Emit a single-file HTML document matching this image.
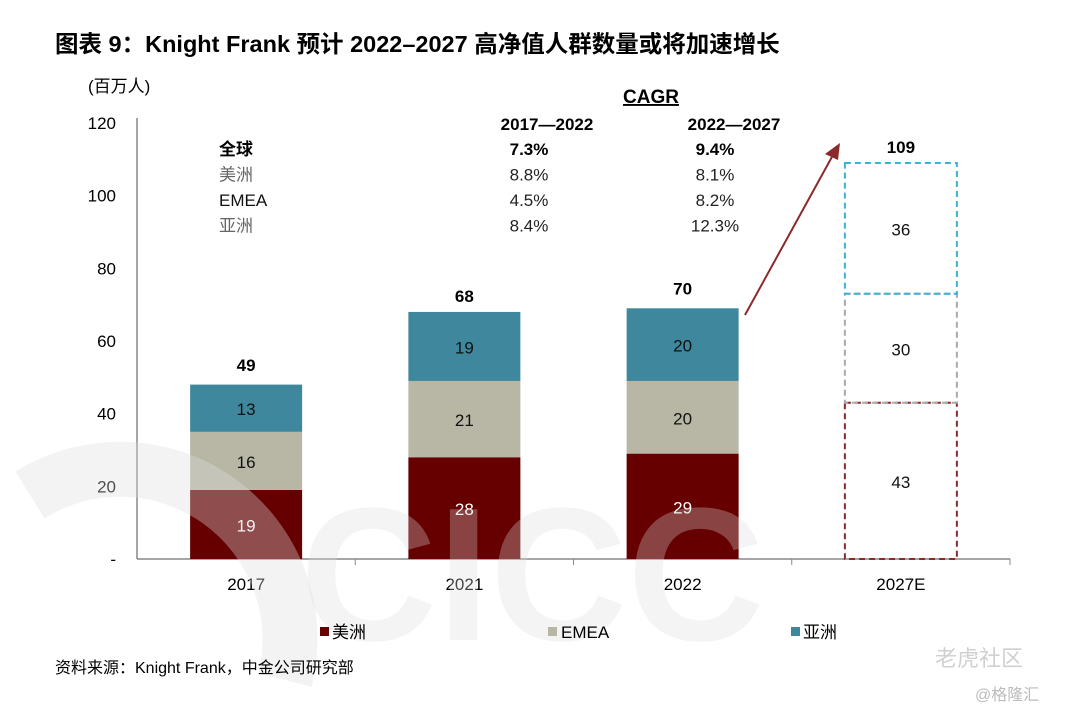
<!DOCTYPE html>
<html><head><meta charset="utf-8"><style>
html,body{margin:0;padding:0;background:#fff;width:1068px;height:720px;overflow:hidden;font-family:"Liberation Sans","Noto Sans CJK SC",sans-serif;}
svg{display:block;overflow:hidden}
</style></head><body>
<svg id="chart" width="1068" height="720" viewBox="0 0 1068 720" xmlns="http://www.w3.org/2000/svg" font-family="Liberation Sans, Noto Sans CJK SC, sans-serif">
<text x="55" y="52" font-size="23.5" font-weight="bold" fill="#000">图表 9：Knight Frank 预计 2022–2027 高净值人群数量或将加速增长</text>
<text x="88" y="92" font-size="17" fill="#000">(百万人)</text>
<g id="axes"></g>
<g id="bars"></g>
<g id="watermark">
<path d="M 30 495 A 170 170 0 0 1 285 680" fill="none" stroke="#dddddd" stroke-width="55" opacity="0.35"/>
<text x="300" y="640" font-size="190" font-weight="bold" fill="#dddddd" opacity="0.3">CICC</text>
</g>
<g id="cagr">
<text x="651" y="103" font-size="19" font-weight="bold" text-anchor="middle" text-decoration="underline">CAGR</text>
<text x="547" y="130" font-size="17" font-weight="bold" text-anchor="middle">2017—2022</text>
<text x="734" y="130" font-size="17" font-weight="bold" text-anchor="middle">2022—2027</text>
</g>
<path d="M745 315 L833 155" stroke="#8b2a2a" stroke-width="2" fill="none"/>
<polygon points="840,143 825,154 838,160" fill="#8b2a2a"/>
<g id="legend">
<rect x="320" y="627" width="9" height="9" fill="#660000"/>
<text x="332" y="638" font-size="17">美洲</text>
<rect x="548" y="627" width="9" height="9" fill="#b8b7a6"/>
<text x="561" y="638" font-size="17">EMEA</text>
<rect x="791" y="627" width="9" height="9" fill="#3f879c"/>
<text x="803" y="638" font-size="17">亚洲</text>
</g>
<text x="55" y="673" font-size="16">资料来源：Knight Frank，中金公司研究部</text>
<text x="935" y="666" font-size="22" fill="#d0d0d0">老虎社区</text>
<text x="975" y="700" font-size="16" fill="#bbb">@格隆汇</text>
</svg>
<script>
const categories=["2017","2021","2022","2027E"];
const americas=[19,28,29,43];
const emea=[16,21,20,30];
const asia=[13,19,20,36];
const totals=[49,68,70,109];
const yTicks=[0,20,40,60,80,100,120];
const cagrRows=["全球","美洲","EMEA","亚洲"];
const cagr1=["7.3%","8.8%","4.5%","8.4%"];
const cagr2=["9.4%","8.1%","8.2%","12.3%"];

const NS="http://www.w3.org/2000/svg";
const x0=137,x1=1010,yBase=559,yTop=123,yMax=120;
const step=(x1-x0)/categories.length, barW=112;
function y(v){return yBase-(v/yMax)*(yBase-yTop);}
function cx(i){return x0+step*(i+0.5);}
function mk(tag,attrs,parent){const e=document.createElementNS(NS,tag);for(const k in attrs)e.setAttribute(k,attrs[k]);parent.appendChild(e);return e;}
const ax=document.getElementById('axes'),bg=document.getElementById('bars'),cg=document.getElementById('cagr');

let l=mk('line',{x1:x0,y1:yTop-5,x2:x0,y2:yBase,stroke:'#888','stroke-width':1.5},ax);


l=mk('line',{x1:x0,y1:yBase,x2:x1,y2:yBase,stroke:'#888','stroke-width':1.5},ax);


yTicks.forEach(v=>{
 const t=mk('text',{x:116,y:y(v)+6,'font-size':17,'text-anchor':'end'},ax);
 t.textContent=v===0?'-':String(v);
 
 
});
categories.forEach((c,i)=>{
 const tk=mk('line',{x1:x0+step*(i+1),y1:yBase,x2:x0+step*(i+1),y2:yBase+6,stroke:'#888','stroke-width':1},ax);
 
 
 const t=mk('text',{x:cx(i),y:590,'font-size':17,'text-anchor':'middle'},ax);
 t.textContent=c;
 
 
});
const series=[[americas,'#660000','#fff','#8b2a2a','americas'],[emea,'#b8b7a6','#111','#aaa','emea'],[asia,'#3f879c','#111','#3bb3d6','asia']];
categories.forEach((c,i)=>{
 let base=0;
 const proj=i===categories.length-1;
 series.forEach(s=>{
  const v=s[0][i];
  const r=mk('rect',{x:cx(i)-barW/2,y:y(base+v),width:barW,height:y(base)-y(base+v)},bg);
  if(proj){r.setAttribute('fill','none');r.setAttribute('stroke',s[3]);r.setAttribute('stroke-width',2);r.setAttribute('stroke-dasharray','6,4');}
  else r.setAttribute('fill',s[1]);
  
  
  const t=mk('text',{x:cx(i),y:(y(base)+y(base+v))/2+7,'font-size':17,'text-anchor':'middle',fill:proj?'#111':s[2]},bg);
  t.textContent=v;
  
  
  base+=v;
 });
 const t=mk('text',{x:cx(i),y:y(totals[i])-10,'font-size':17,'font-weight':'bold','text-anchor':'middle'},bg);
 t.textContent=totals[i];
 
 
});
cagrRows.forEach((r,i)=>{
 const yy=155+i*25.5, b=i===0;
 const fill=i===2?'#111':(b?'#000':'#666');
 let t=mk('text',{x:219,y:yy,'font-size':17,'font-weight':b?'bold':'normal',fill:fill},cg);
 t.textContent=r;
 
 
 t=mk('text',{x:529,y:yy,'font-size':17,'font-weight':b?'bold':'normal','text-anchor':'middle',fill:b?'#000':'#222'},cg);
 t.textContent=cagr1[i];
 
 
 t=mk('text',{x:715,y:yy,'font-size':17,'font-weight':b?'bold':'normal','text-anchor':'middle',fill:b?'#000':'#222'},cg);
 t.textContent=cagr2[i];
 
 
});
</script>
</body></html>
